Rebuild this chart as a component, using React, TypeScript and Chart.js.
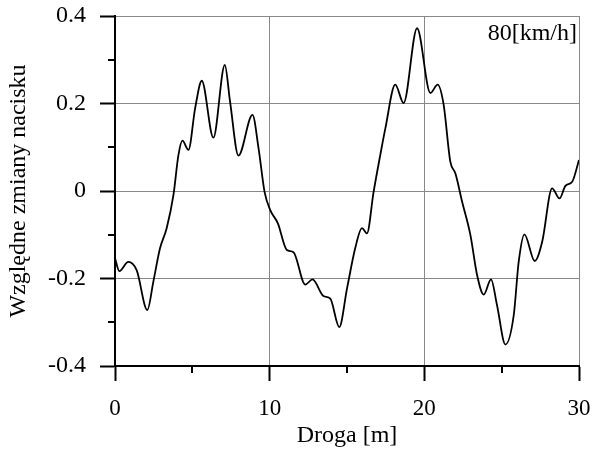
import React, { useEffect, useRef } from "react";
import { Chart, registerables } from "chart.js";

Chart.register(...registerables);

const distance = [0, 0.28, 0.86, 1.4, 2.09, 2.48, 2.91, 3.34, 3.78, 4.1, 4.36, 4.75, 5.18, 5.61, 6.36, 7.1, 7.44, 7.98, 8.89, 9.28, 9.67, 10.03, 10.53, 11.11, 11.54, 12.3, 12.77, 13.48, 13.92, 14.5, 15.0, 15.53, 15.97, 16.29, 16.72, 17.15, 17.48, 18.12, 18.66, 19.53, 20.39, 20.86, 21.25, 21.68, 22.01, 22.44, 22.98, 23.41, 23.84, 24.31, 24.7, 25.24, 25.78, 26.1, 26.47, 27.14, 27.62, 28.26, 28.74, 29.13, 29.56, 30];
const pressure = [-0.154, -0.183, -0.162, -0.181, -0.272, -0.207, -0.131, -0.085, -0.009, 0.082, 0.115, 0.094, 0.189, 0.252, 0.122, 0.288, 0.204, 0.081, 0.174, 0.098, -0.002, -0.043, -0.074, -0.135, -0.14, -0.214, -0.202, -0.24, -0.246, -0.311, -0.223, -0.131, -0.085, -0.097, -0.002, 0.082, 0.143, 0.243, 0.201, 0.372, 0.224, 0.243, 0.197, 0.067, 0.04, -0.024, -0.101, -0.192, -0.237, -0.202, -0.261, -0.351, -0.284, -0.162, -0.099, -0.16, -0.116, 0.006, -0.017, 0.012, 0.021, 0.071];

const xMajorTicks = [0, 10, 20, 30];
const xMinorTicks = [5, 15, 25];
const yMinorTicks = [-0.3, -0.1, 0.1, 0.3];
const speedLabel = "80[km/h]";
const xTitle = "Droga [m]";
const yTitle = "Względne zmiany nacisku";

const FONT = "'Liberation Serif', 'Times New Roman', serif";

export default function App() {
  const ref = useRef<HTMLCanvasElement>(null);
  useEffect(() => {
    document.body.style.margin = "0";
    const ctx = ref.current!.getContext("2d")!;
    const extras = {
      id: "extras",
      afterDraw(chart: any) {
        const c = chart.ctx;
        const xs = chart.scales.x;
        const ys = chart.scales.y;
        c.save();
        c.strokeStyle = "#000";
        c.lineWidth = 2;
        xMinorTicks.forEach((v) => {
          const px = Math.round(xs.getPixelForValue(v));
          c.beginPath();
          c.moveTo(px, ys.bottom);
          c.lineTo(px, ys.bottom + 7);
          c.stroke();
        });
        yMinorTicks.forEach((v) => {
          const py = Math.round(ys.getPixelForValue(v));
          c.beginPath();
          c.moveTo(xs.left - 7, py);
          c.lineTo(xs.left, py);
          c.stroke();
        });
        c.fillStyle = "#000";
        c.font = `24px ${FONT}`;
        c.textAlign = "right";
        c.textBaseline = "alphabetic";
        c.fillText(speedLabel, xs.right - 2, ys.top + 24);
        c.restore();
      },
    };
    const chart = new Chart(ctx, {
      type: "line",
      data: {
        datasets: [
          {
            data: distance.map((d, i) => ({ x: d, y: pressure[i] })),
            borderColor: "#000",
            borderWidth: 1.8,
            pointRadius: 0,
            cubicInterpolationMode: "monotone",
            fill: false,
          },
        ],
      },
      options: {
        animation: false,
        responsive: false,
        maintainAspectRatio: false,
        layout: { padding: { top: 16, right: 14, left: 0, bottom: 0 } },
        plugins: { legend: { display: false }, tooltip: { enabled: false } },
        scales: {
          x: {
            type: "linear",
            min: 0,
            max: 30,
            afterBuildTicks: (s: any) => {
              s.ticks = xMajorTicks.map((v) => ({ value: v }));
            },
            afterFit: (s: any) => {
              s.height = 84;
              s.paddingLeft = 0;
              s.paddingRight = 0;
            },
            ticks: {
              color: "#000",
              font: { family: FONT, size: 23 },
              padding: 14,
              maxRotation: 0,
              callback: (v: any) => String(v),
            },
            grid: {
              color: "#888",
              lineWidth: 1,
              tickColor: "#000",
              tickWidth: 2,
              tickLength: 15,
            },
            border: { display: true, color: "#000", width: 2 },
            title: {
              display: true,
              text: xTitle,
              color: "#000",
              font: { family: FONT, size: 24 },
              padding: { top: 0, bottom: 0 },
            },
          },
          y: {
            type: "linear",
            min: -0.4,
            max: 0.4,
            ticks: {
              stepSize: 0.2,
              color: "#000",
              font: { family: FONT, size: 24 },
              padding: 14,
              callback: (v: any) => {
                const r = Math.round(Number(v) * 10) / 10;
                return r === 0 ? "0" : r.toFixed(1);
              },
            },
            afterFit: (s: any) => {
              s.width = 115;
              s.paddingTop = 0;
              s.paddingBottom = 0;
            },
            grid: {
              color: "#888",
              lineWidth: 1,
              tickColor: "#000",
              tickWidth: 2,
              tickLength: 15,
            },
            border: { display: true, color: "#000", width: 2 },
            title: {
              display: true,
              text: yTitle,
              color: "#000",
              font: { family: FONT, size: 24 },
              padding: { top: 4, bottom: 0 },
            },
          },
        },
      },
      plugins: [extras],
    } as any);
    return () => chart.destroy();
  }, []);
  return (
    <div style={{ width: 593, height: 450 }}>
      <canvas ref={ref} width={593} height={450} style={{ display: "block" }} />
    </div>
  );
}
